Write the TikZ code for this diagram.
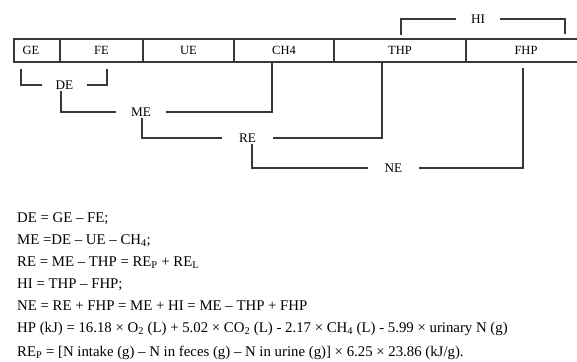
\documentclass[tikz,border=0pt]{standalone}
\usepackage{fontspec}
\setmainfont{Liberation Serif}
\usetikzlibrary{calc}
\definecolor{ln}{HTML}{383838}
\begin{document}
\begin{tikzpicture}[x=1pt,y=-1pt,
  cell/.style={draw=ln,line width=1.1pt,minimum height=23pt,inner sep=0pt,font=\fontsize{12.5}{14}\selectfont},
  lab/.style={inner xsep=0pt,inner ysep=1.5pt,font=\fontsize{13.2}{16}\selectfont},
  conn/.style={draw=ln,line width=1.2pt},
  eq/.style={anchor=base west,inner sep=0pt,font=\fontsize{14.8}{17}\selectfont}]
\useasboundingbox (0,0) rectangle (577,361);
% bar cells
\node[cell,minimum width=46pt] (GE) at (37,50.5) {GE\kern12pt};
\node[cell,minimum width=83pt] (FE) at (101.5,50.5) {FE};
\node[cell,minimum width=91pt] (UE) at (188.5,50.5) {UE};
\node[cell,minimum width=100pt] (CH4) at (284,50.5) {CH4};
\node[cell,minimum width=132pt] (THP) at (400,50.5) {THP};
\node[cell,minimum width=120pt] (FHP) at (526,50.5) {FHP};
% bracket labels
\node[lab,minimum width=45pt] (DE) at (64.5,85) {DE};
\node[lab,minimum width=50pt] (ME) at (141,112) {ME};
\node[lab,minimum width=51pt] (RE) at (247.5,138) {RE};
\node[lab,minimum width=51pt] (NE) at (393.5,168) {NE};
\node[lab,minimum width=44pt] (HI) at (478,19) {HI};
% free ends
\coordinate (dl) at ($(GE.south)+(-16,6)$);
\coordinate (dr) at ($(FE.south)+(5.5,6)$);
\coordinate (mr) at ($(CH4.south)+(-12,0)$);
\coordinate (rr) at ($(THP.south)+(-18,0)$);
\coordinate (nr) at ($(FHP.south)+(-3,5)$);
\coordinate (hl) at ($(THP.north)+(1,-3)$);
\coordinate (hr) at ($(FHP.north)+(39,-4)$);
% connectors
\draw[conn] (DE.west) -| (dl);
\draw[conn] (DE.east) -| (dr);
\draw[conn] ([xshift=-3.5pt]DE.south) |- (ME.west);
\draw[conn] (ME.east) -| (mr);
\draw[conn] ([xshift=1pt]ME.south) |- (RE.west);
\draw[conn] (RE.east) -| (rr);
\draw[conn] ([xshift=4.5pt]RE.south) |- (NE.west);
\draw[conn] (NE.east) -| (nr);
\draw[conn] (HI.west) -| (hl);
\draw[conn] (HI.east) -| (hr);
% equations
\node[eq] (e1) at (17,222) {DE = GE – FE;};
\node[eq] (e2) at (17,244) {ME =DE – UE – CH\textsubscript{4};};
\node[eq] (e3) at (17,266) {RE = ME – THP = RE\textsubscript{P} + RE\textsubscript{L}};
\node[eq] (e4) at (17,288) {HI = THP – FHP;};
\node[eq] (e5) at (17,310) {NE = RE + FHP = ME + HI = ME – THP + FHP};
\node[eq] (e6) at (17,332) {HP (kJ) = 16.18 × O\textsubscript{2} (L) + 5.02 × CO\textsubscript{2} (L) - 2.17 × CH\textsubscript{4} (L) - 5.99 × urinary N (g)};
\node[eq] (e7) at (17,356) {RE\textsubscript{P} = [N intake (g) – N in feces (g) – N in urine (g)] × 6.25 × 23.86 (kJ/g).};
\end{tikzpicture}
\end{document}
